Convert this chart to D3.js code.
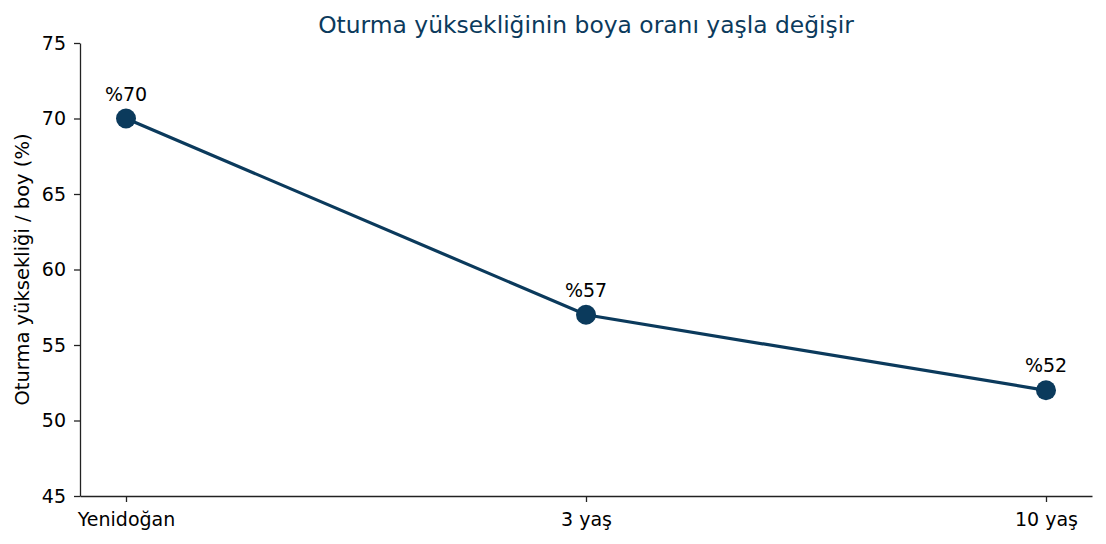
<!DOCTYPE html>
<html>
<head>
<meta charset="utf-8">
<script src="https://d3js.org/d3.v7.min.js"></script>
<style>
  body { margin: 0; background: #fff; }
  svg { font-family: "DejaVu Sans", sans-serif; }
</style>
</head>
<body>
<svg id="chart" width="1106" height="544"></svg>
<script>
var categories = ["Yenidoğan", "3 yaş", "10 yaş"];
var values = [70, 57, 52];
var labels = ["%70", "%57", "%52"];
var yTicks = [45, 50, 55, 60, 65, 70, 75];

var color = "#0b3a5c";
var svg = d3.select("#chart"),
    margin = {top: 43, right: 14, bottom: 48, left: 80},
    width = +svg.attr("width") - margin.left - margin.right,
    height = +svg.attr("height") - margin.top - margin.bottom,
    g = svg.append("g").attr("transform", "translate(" + margin.left + "," + margin.top + ")");

// matplotlib style 5% margins on the category axis
var x = d3.scaleLinear()
    .domain([-0.1, categories.length - 0.9])
    .range([0, width]);

var y = d3.scaleLinear()
    .domain([45, 75])
    .range([height, 0]);

var xAxis = g.append("g")
    .attr("transform", "translate(0," + height + ")")
    .call(d3.axisBottom(x).tickValues(d3.range(categories.length)).tickFormat(i => categories[i]).tickSize(6).tickPadding(11).tickSizeOuter(0));

var yAxis = g.append("g")
    .call(d3.axisLeft(y).tickValues(yTicks).tickSize(6).tickPadding(8).tickSizeOuter(0));

[xAxis, yAxis].forEach(a => {
  a.selectAll("text").attr("font-size", 19).attr("fill", "#000").attr("font-family", "DejaVu Sans");
  a.selectAll("line").attr("stroke", "#222").attr("stroke-width", 1.3);
  a.select(".domain").attr("stroke", "#222").attr("stroke-width", 1.3);
});

var line = d3.line()
    .x((d, i) => x(i))
    .y(d => y(d));

g.append("path")
    .datum(values)
    .attr("fill", "none")
    .attr("stroke", color)
    .attr("stroke-width", 3.2)
    .attr("d", line);

g.selectAll("circle")
    .data(values)
    .join("circle")
    .attr("cx", (d, i) => x(i))
    .attr("cy", d => y(d))
    .attr("r", 10)
    .attr("fill", color);

g.selectAll(".lbl")
    .data(values)
    .join("text")
    .attr("class", "lbl")
    .attr("x", (d, i) => x(i))
    .attr("y", d => y(d) - 18)
    .attr("text-anchor", "middle")
    .attr("font-size", 19)
    .text((d, i) => labels[i]);

svg.append("text")
    .attr("x", margin.left + width / 2)
    .attr("y", 33)
    .attr("text-anchor", "middle")
    .attr("font-size", 23.4)
    .attr("fill", color)
    .text("Oturma yüksekliğinin boya oranı yaşla değişir");

svg.append("text")
    .attr("transform", "translate(29," + (margin.top + height / 2) + ") rotate(-90)")
    .attr("text-anchor", "middle")
    .attr("font-size", 19.5)
    .text("Oturma yüksekliği / boy (%)");
</script>
</body>
</html>
